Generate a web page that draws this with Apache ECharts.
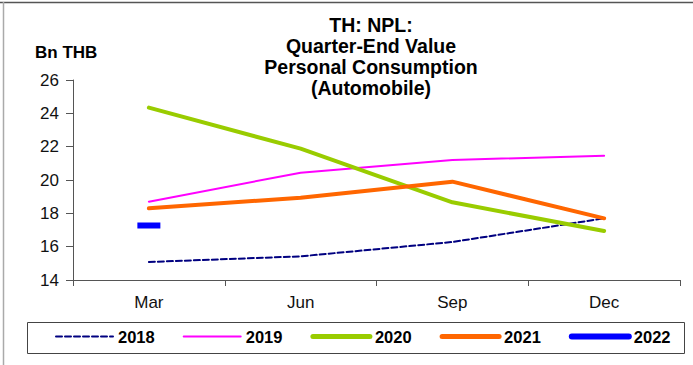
<!DOCTYPE html>
<html>
<head>
<meta charset="utf-8">
<script src="https://cdn.jsdelivr.net/npm/echarts@6/dist/echarts.min.js"></script>
<style>
  html, body { margin: 0; padding: 0; background: #fff; }
  #chart { width: 693px; height: 365px; }
</style>
</head>
<body>
<div id="chart"></div>
<script>
// Quarter-end NPL values, personal consumption (automobile), Bn THB
const quarters = ['Mar', 'Jun', 'Sep', 'Dec'];
const npl2018 = [15.08, 15.42, 16.28, 17.70];
const npl2019 = [18.70, 20.44, 21.20, 21.46];
const npl2020 = [24.34, 21.88, 18.66, 16.94];
const npl2021 = [18.30, 18.94, 19.90, 17.70];
const npl2022 = [17.27, null, null, null];
const yTicks = { min: 14, max: 26, step: 2 };

const FONT = 'Liberation Sans, Arial, sans-serif';

const chart = echarts.init(document.getElementById('chart'), null, { renderer: 'svg' });

const lineSeries = (name, data, color, width, type) => ({
  name: name,
  type: 'line',
  data: data,
  symbol: 'none',
  silent: true,
  lineStyle: { color: color, width: width, type: type || 'solid', cap: 'round' },
  itemStyle: { color: color },
  emphasis: { disabled: true }
});

chart.setOption({
  animation: false,
  backgroundColor: '#ffffff',
  textStyle: { fontFamily: FONT },
  grid: { left: 73, right: 13, top: 80, bottom: 85 },
  xAxis: {
    type: 'category',
    data: quarters,
    boundaryGap: true,
    axisLine: { lineStyle: { color: '#555', width: 1 } },
    axisTick: { show: true, length: 6, alignWithLabel: false, lineStyle: { color: '#555' } },
    axisLabel: { color: '#111', fontSize: 17, fontFamily: FONT, margin: 14 },
    splitLine: { show: false }
  },
  yAxis: {
    type: 'value',
    min: yTicks.min,
    max: yTicks.max,
    interval: yTicks.step,
    axisLine: { show: true, lineStyle: { color: '#555', width: 1 } },
    axisTick: { show: true, length: 7, lineStyle: { color: '#555' } },
    axisLabel: { color: '#111', fontSize: 17, fontFamily: FONT, margin: 14 },
    splitLine: { show: false }
  },
  legend: {
    left: 50,
    top: 323,
    itemWidth: 57,
    itemHeight: 14,
    itemGap: 28,
    icon: 'inherit',
    itemStyle: { opacity: 0 },
    textStyle: { color: '#000', fontSize: 16.5, fontWeight: 'bold', fontFamily: FONT },
    selectedMode: false,
    data: [
      { name: '2018', lineStyle: { width: 2, type: [6, 3], color: '#000080' } },
      { name: '2019', lineStyle: { width: 2, color: '#ff00ff' } },
      { name: '2020', lineStyle: { width: 5, color: '#99cc00', cap: 'round' } },
      { name: '2021', lineStyle: { width: 5, color: '#ff6600', cap: 'round' } },
      { name: '2022', lineStyle: { width: 6, color: '#0000ff', cap: 'round' } }
    ]
  },
  graphic: [
    { type: 'line', shape: { x1: 0, y1: 2.5, x2: 693, y2: 2.5 }, style: { stroke: '#555', lineWidth: 1.5 }, silent: true },
    { type: 'line', shape: { x1: 3.5, y1: 2, x2: 3.5, y2: 365 }, style: { stroke: '#aaa', lineWidth: 1.5 }, silent: true },
    { type: 'rect', shape: { x: 27.5, y: 322.5, width: 657, height: 31 }, style: { fill: 'none', stroke: '#444', lineWidth: 1 }, silent: true },
    {
      type: 'text', x: 371, y: 14, silent: true,
      style: {
        text: 'TH: NPL:\nQuarter-End Value\nPersonal Consumption\n(Automobile)',
        fill: '#000', font: 'bold 19.5px ' + FONT, lineHeight: 21, align: 'center', verticalAlign: 'top'
      }
    },
    {
      type: 'text', left: 35, top: 44, silent: true,
      style: { text: 'Bn THB', fill: '#000', font: 'bold 17px ' + FONT }
    }
  ],
  series: [
    lineSeries('2018', npl2018, '#000080', 2, [6, 3]),
    lineSeries('2019', npl2019, '#ff00ff', 2),
    lineSeries('2020', npl2020, '#99cc00', 4),
    lineSeries('2021', npl2021, '#ff6600', 4),
    {
      name: '2022',
      type: 'line',
      data: npl2022,
      symbol: 'rect',
      symbolSize: [23, 6],
      showSymbol: true,
      silent: true,
      lineStyle: { color: '#0000ff', width: 6, cap: 'round' },
      itemStyle: { color: '#0000ff' },
      emphasis: { disabled: true }
    }
  ]
});
</script>
</body>
</html>
